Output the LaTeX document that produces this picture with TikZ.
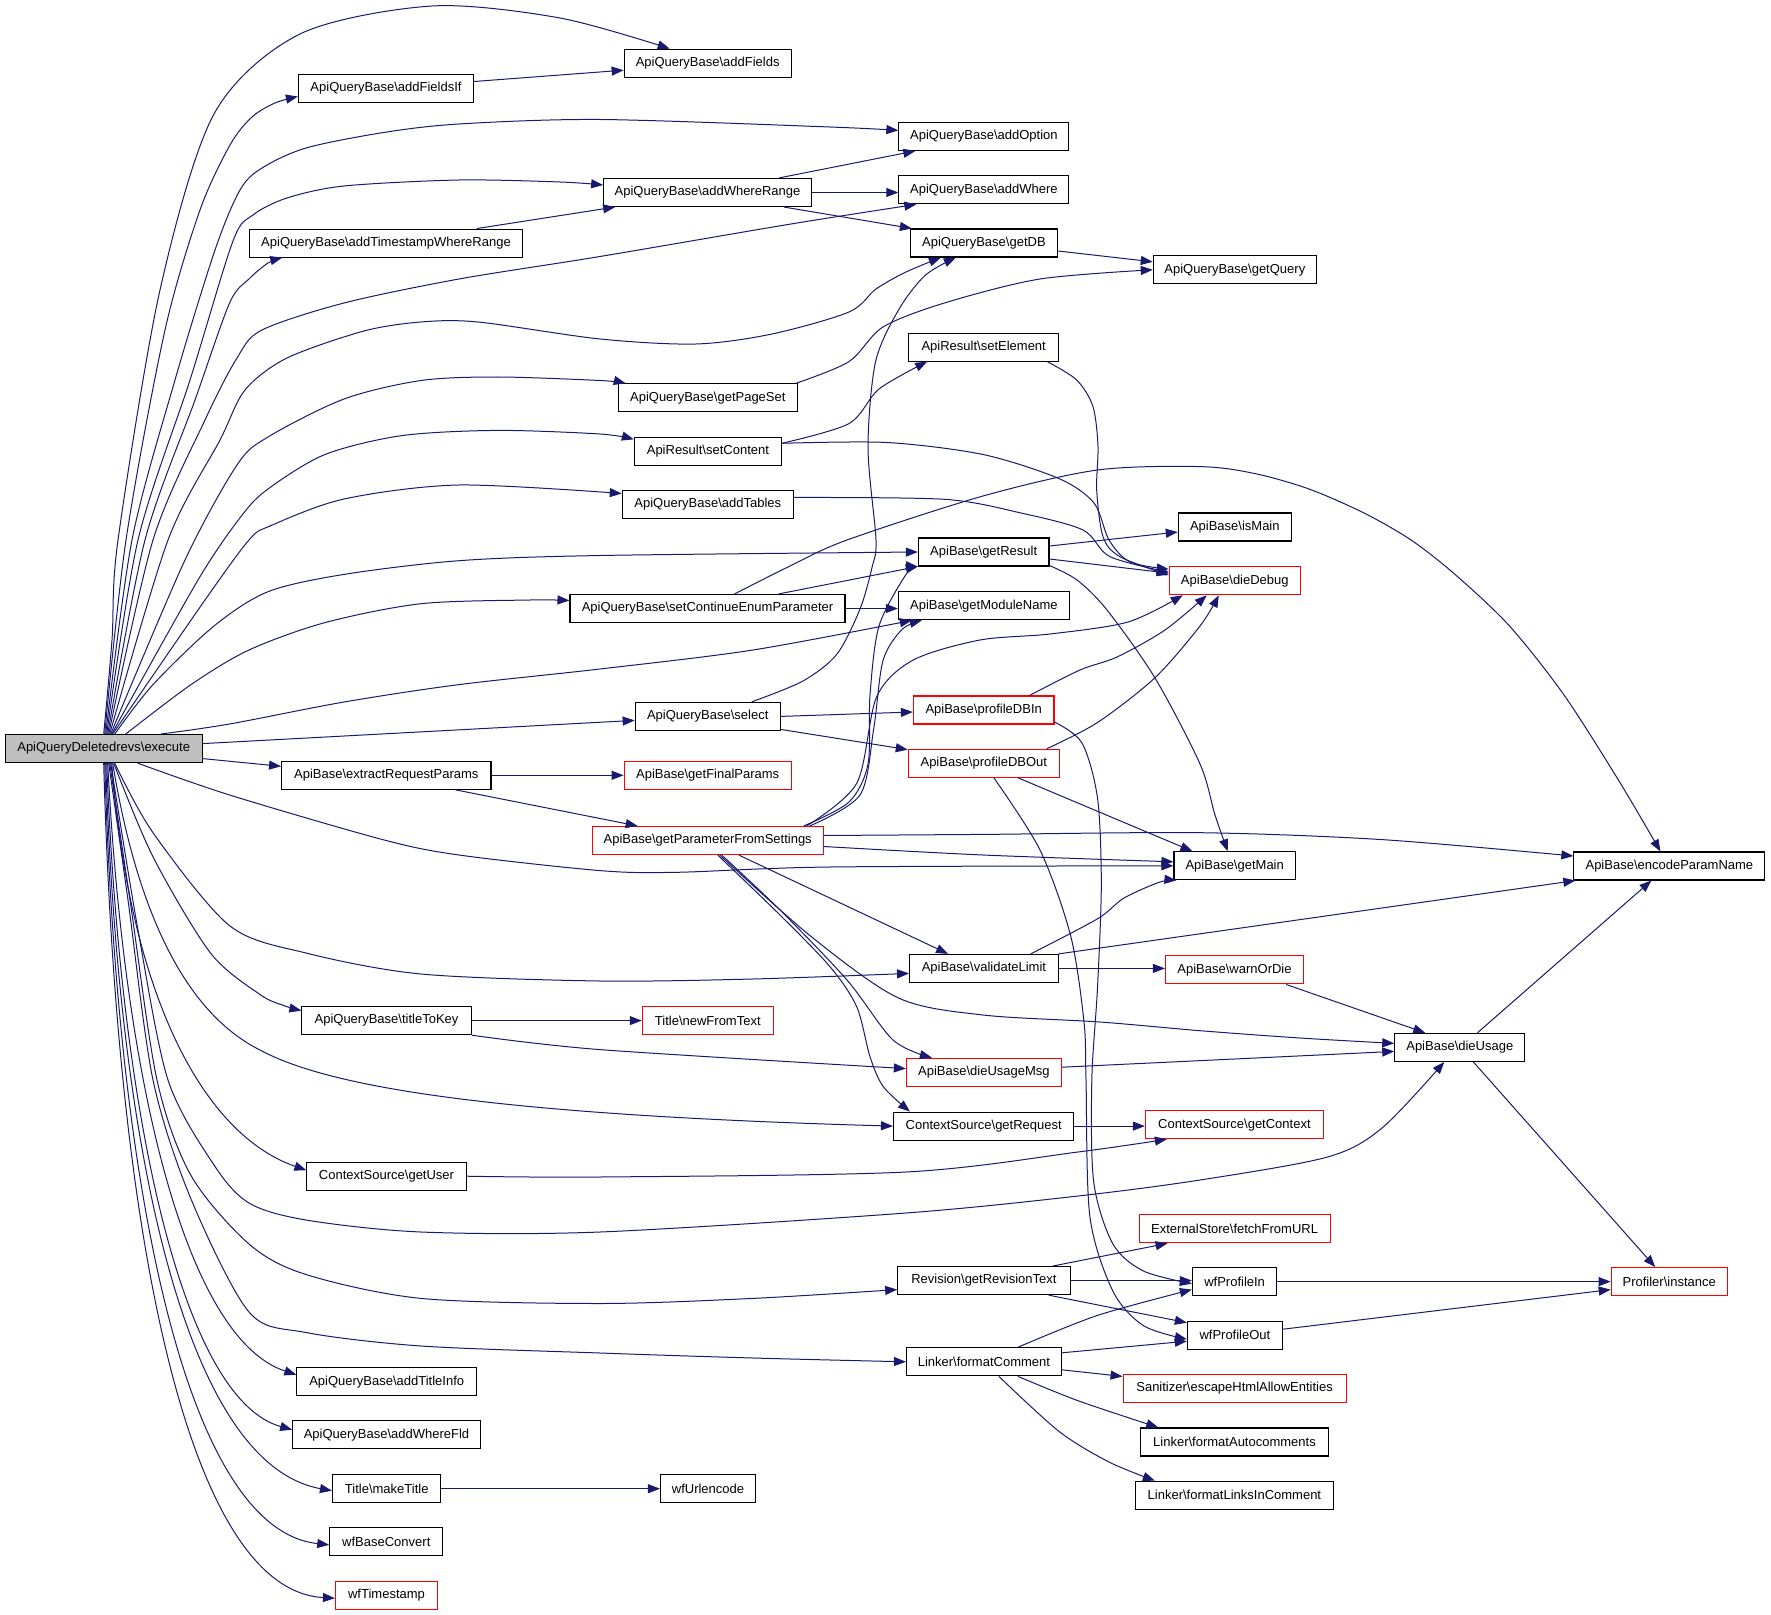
\documentclass[tikz,border=0pt]{standalone}
\usepackage{fontspec}
\setmainfont{Liberation Sans}
\usetikzlibrary{arrows.meta,calc}
\definecolor{edgeblue}{RGB}{25,25,112}
\definecolor{boxgray}{RGB}{191,191,191}
\tikzset{
  box/.style={draw=black, line width=0.55pt, fill=white, minimum height=14pt, inner xsep=1pt, inner ysep=1pt, font=\fontsize{6.5}{7.8}\selectfont},
  redbox/.style={box, draw=red},
  call/.style={draw=edgeblue, line width=0.5pt, -{Triangle[length=6pt,width=4.5pt]}},
}
\begin{document}
\begin{tikzpicture}[x=0.5pt,y=-0.5pt]
\fill[white] (0,0) rectangle (1771,1615);
\useasboundingbox (0,0) rectangle (1771,1615);
% ---------- nodes ----------
\node[box,fill=boxgray,minimum width=98.4pt] (E) at (103.7,748.6) {ApiQueryDeletedrevs\textbackslash execute};
% column 1
\node[box,minimum width=87.6pt] (addFieldsIf) at (386,88.5) {ApiQueryBase\textbackslash addFieldsIf};
\node[box,minimum width=136.2pt] (addTS) at (386,243.1) {ApiQueryBase\textbackslash addTimestampWhereRange};
\node[box,minimum width=104.7pt] (extract) at (386.3,775.3) {ApiBase\textbackslash extractRequestParams};
\node[box,minimum width=84.6pt] (titleToKey) at (386.5,1020.6) {ApiQueryBase\textbackslash titleToKey};
\node[box,minimum width=79.6pt] (getUser) at (386.5,1176.2) {ContextSource\textbackslash getUser};
\node[box,minimum width=89.8pt] (addTitleInfo) at (386.7,1381.7) {ApiQueryBase\textbackslash addTitleInfo};
\node[box,minimum width=93.8pt] (addWhereFld) at (386.5,1434.7) {ApiQueryBase\textbackslash addWhereFld};
\node[box,minimum width=54.2pt] (makeTitle) at (386.7,1488.7) {Title\textbackslash makeTitle};
\node[box,minimum width=56.5pt] (wfBaseConvert) at (386.3,1541.8) {wfBaseConvert};
\node[redbox,minimum width=51pt] (wfTimestamp) at (386.5,1595.2) {wfTimestamp};
% column 2
\node[box,minimum width=83.5pt] (addFields) at (707.7,63.2) {ApiQueryBase\textbackslash addFields};
\node[box,minimum width=103.8pt] (addWhereRange) at (707.5,192.5) {ApiQueryBase\textbackslash addWhereRange};
\node[box,minimum width=89.5pt] (getPageSet) at (707.8,397.9) {ApiQueryBase\textbackslash getPageSet};
\node[box,minimum width=73.5pt] (setContent) at (707.9,451.3) {ApiResult\textbackslash setContent};
\node[box,minimum width=85.5pt] (addTables) at (707.8,504.5) {ApiQueryBase\textbackslash addTables};
\node[box,minimum width=137.5pt] (setCont) at (707.5,608.5) {ApiQueryBase\textbackslash setContinueEnumParameter};
\node[box,minimum width=72.5pt] (select) at (707.7,716.4) {ApiQueryBase\textbackslash select};
\node[redbox,minimum width=83.5pt] (getFinalParams) at (707.7,775.1) {ApiBase\textbackslash getFinalParams};
\node[redbox,minimum width=115.5pt] (gPFS) at (707.7,840.5) {ApiBase\textbackslash getParameterFromSettings};
\node[redbox,minimum width=65.5pt] (newFromText) at (707.8,1020.7) {Title\textbackslash newFromText};
\node[box,minimum width=47.5pt] (wfUrlencode) at (708,1488.7) {wfUrlencode};
% column 3
\node[box,minimum width=85pt] (addOption) at (983.9,136.4) {ApiQueryBase\textbackslash addOption};
\node[box,minimum width=85pt] (addWhere) at (983.9,189.8) {ApiQueryBase\textbackslash addWhere};
\node[box,minimum width=73.5pt] (getDB) at (983.9,243) {ApiQueryBase\textbackslash getDB};
\node[box,minimum width=75pt] (setElement) at (983.7,347.1) {ApiResult\textbackslash setElement};
\node[box,minimum width=65.3pt] (getResult) at (983.7,552) {ApiBase\textbackslash getResult};
\node[box,minimum width=85.5pt] (getModuleName) at (983.9,605.8) {ApiBase\textbackslash getModuleName};
\node[redbox,minimum width=70.3pt] (profileDBIn) at (983.7,710) {ApiBase\textbackslash profileDBIn};
\node[redbox,minimum width=75.5pt] (profileDBOut) at (983.8,763.2) {ApiBase\textbackslash profileDBOut};
\node[box,minimum width=74.3pt] (validateLimit) at (983.9,968.4) {ApiBase\textbackslash validateLimit};
\node[redbox,minimum width=77.5pt] (dieUsageMsg) at (983.9,1072.2) {ApiBase\textbackslash dieUsageMsg};
\node[box,minimum width=90.2pt] (getRequest) at (983.7,1126.1) {ContextSource\textbackslash getRequest};
\node[box,minimum width=86.2pt] (getRevisionText) at (983.9,1280.6) {Revision\textbackslash getRevisionText};
\node[box,minimum width=77.4pt] (formatComment) at (983.9,1361.8) {Linker\textbackslash formatComment};
% column 4
\node[box,minimum width=81.5pt] (getQuery) at (1234.8,269.8) {ApiQueryBase\textbackslash getQuery};
\node[box,minimum width=56.5pt] (isMain) at (1234.8,527) {ApiBase\textbackslash isMain};
\node[redbox,minimum width=65.5pt] (dieDebug) at (1234.8,580.7) {ApiBase\textbackslash dieDebug};
\node[box,minimum width=60.7pt] (getMain) at (1234.7,865.8) {ApiBase\textbackslash getMain};
\node[redbox,minimum width=69pt] (warnOrDie) at (1234.5,969.9) {ApiBase\textbackslash warnOrDie};
\node[redbox,minimum width=89pt] (getContext) at (1234.4,1124.7) {ContextSource\textbackslash getContext};
\node[redbox,minimum width=95.5pt] (fetchFromURL) at (1234.6,1228.8) {ExternalStore\textbackslash fetchFromURL};
\node[box,minimum width=42.2pt] (wfProfileIn) at (1234.6,1281.6) {wfProfileIn};
\node[box,minimum width=47.5pt] (wfProfileOut) at (1234.9,1335.2) {wfProfileOut};
\node[redbox,minimum width=111.5pt] (escape) at (1234.6,1388.4) {Sanitizer\textbackslash escapeHtmlAllowEntities};
\node[box,minimum width=93.7pt] (formatAuto) at (1234.5,1442) {Linker\textbackslash formatAutocomments};
\node[box,minimum width=99pt] (formatLinks) at (1234.4,1495.2) {Linker\textbackslash formatLinksInComment};
% column 5, 6
\node[box,minimum width=65pt] (dieUsage) at (1459.8,1047.4) {ApiBase\textbackslash dieUsage};
\node[box,minimum width=95.5pt] (encode) at (1669.4,866) {ApiBase\textbackslash encodeParamName};
\node[redbox,minimum width=58pt] (instance) at (1669.2,1281.6) {Profiler\textbackslash instance};
% ---------- edges from execute (upwards) ----------
\draw[call] plot[smooth] coordinates {(E.north) (112,640) (118,540) (160,290) (214,114) (300,34) (432,6) (560,18) ($(addFields.north west)+(46,0)$)};
\draw[call] plot[smooth] coordinates {($(E.north)+(1,0)$) (126,540) (165,330) (200,210) (230,145) (252,117) (275,103) ($(addFieldsIf.west)+(0,8)$)};
\draw[call] plot[smooth] coordinates {($(E.north)+(2,0)$) (132,540) (175,380) (215,250) (240,190) (262,168) (306,148) (383,132.6) (459,124) (600,119.5) (830,127) ($(addOption.west)+(0,-6)$)};
\draw[call] plot[smooth] coordinates {($(E.north)+(3,0)$) (138,540) (190,380) (233,241) (253,215) (287,198) (344,186) (459,180) (560,182) ($(addWhereRange.west)+(0,-7.5)$)};
\draw[call] plot[smooth] coordinates {($(E.north)+(4,0)$) (145,540) (195,400) (229.6,303) (249,279) (268,263) ($(addTS.south west)+(33,0)$)};
\draw[call] plot[smooth] coordinates {($(E.north)+(5,0)$) (153,540) (205,420) (237,358) (262,330) (344,303) (459,279) (600,256.5) (791,224) ($(addWhere.south west)+(18,0)$)};
\draw[call] plot[smooth] coordinates {($(E.north)+(6,0)$) (168,540) (220,440) (245,390) (287,358) (364,331) (421,322) (478,322) (600,339) (696,344) (772,334) (849,312) (876,289) (906,272) ($(getDB.south west)+(31,0)$)};
\draw[call] plot[smooth] coordinates {($(E.north)+(7,0)$) (185,560) (237,465) (268,437) (344,399) (421,380.5) (497.5,377) (600,380.5) ($(getPageSet.north west)+(8,0)$)};
\draw[call] plot[smooth] coordinates {($(E.north)+(8,0)$) (198,580) (241,516.5) (268,489) (325,454.5) (402,435.6) (497.5,430.4) (600,434) ($(setContent.west)+(0,-12)$)};
\draw[call] plot[smooth] coordinates {($(E.north)+(9,0)$) (205,600) (249,540) (270,526) (344,499) (459,485) ($(addTables.west)+(0,-11)$)};
\draw[call] plot[smooth] coordinates {($(E.north)+(11,0)$) (153,684.6) (214,626) (268,591.7) (344,574.4) (459,560.7) (600,555.5) (getResult.west)};
\draw[call] plot[smooth] coordinates {($(E.north)+(22,0)$) (191,684.6) (249,650) (325,622.6) (421,603.7) (530,600) ($(setCont.west)+(0,-8)$)};
\draw[call] plot[smooth] coordinates {($(E.north)+(57,0)$) (229.6,724) (344,702) (459,684.6) (600,669) (753,650) ($(getModuleName.south west)+(14,0)$)};
\draw[call] ($(E.east)+(0,-5)$) -- ($(select.west)+(0,4)$);
\draw[call] ($(E.east)+(0,10)$) -- ($(extract.west)+(0,-9)$);
% ---------- edges from execute (downwards) ----------
\draw[call] plot[smooth] coordinates {($(E.south)+(34,0)$) (229.6,795) (382.7,839.6) (459,855) (600,870.6) (676.5,872.3) (829.6,867) (getMain.west)};
\draw[call] plot[smooth] coordinates {($(E.south)+(11,0)$) (153,832.7) (229.6,925.7) (306,953) (421,974) (600,981) (753,979) ($(validateLimit.west)+(0,5)$)};
\draw[call] plot[smooth] coordinates {($(E.south)+(10,0)$) (153,856.8) (210.5,953) (260,994.5) (285,1006) ($(titleToKey.west)+(0,-10)$)};
\draw[call] ($(E.south)+(9,0)$) .. controls (135,900) and (180,1010) .. (260,1050) .. controls (330,1088) and (500,1115) .. (getRequest.west);
\draw[call] ($(E.south)+(8,0)$) .. controls (130,1000) and (205,1135) .. ($(getUser.west)+(0,-6)$);
\draw[call] plot[smooth] coordinates {($(E.south)+(7,0)$) (138,930) (168,1080) (214,1165) (249,1203) (306,1220) (421,1232) (600,1232) (906,1213) (1078,1196) (1200,1180) (1327.5,1157) (1382,1128) ($(dieUsage.south west)+(50,0)$)};
\draw[call] plot[smooth] coordinates {($(E.south)+(6,0)$) (130,900) (157,1080) (191,1175.5) (249,1244) (306,1274.5) (421,1298.4) (600,1303.5) (753,1298.4) ($(getRevisionText.west)+(0,9)$)};
\draw[call] plot[smooth] coordinates {($(E.south)+(5,0)$) (128,900) (153,1080) (191,1199) (249,1312) (306,1332.5) (421,1346) (600,1353) (753,1358) (formatComment.west)};
\draw[call] ($(E.south)+(4,0)$) .. controls (125,1100) and (190,1340) .. ($(addTitleInfo.west)+(0,-7)$);
\draw[call] ($(E.south)+(3,0)$) .. controls (121,1130) and (185,1400) .. ($(addWhereFld.west)+(0,-5)$);
\draw[call] ($(E.south)+(2,0)$) .. controls (119,1170) and (190,1465) .. ($(makeTitle.west)+(0,2)$);
\draw[call] ($(E.south)+(1,0)$) .. controls (118,1210) and (190,1530) .. ($(wfBaseConvert.west)+(0,3)$);
\draw[call] (E.south) .. controls (117,1250) and (190,1590) .. ($(wfTimestamp.west)+(0,3)$);
% ---------- other edges ----------
\draw[call] ($(addFieldsIf.east)+(0,-7)$) -- ($(addFields.west)+(0,7)$);
\draw[call] ($(addWhereRange.north east)+(-33,0)$) -- ($(addOption.south west)+(17,0)$);
\draw[call] (addWhereRange.east) -- (addWhereRange.east -| addWhere.west);
\draw[call] ($(addWhereRange.south east)+(-28,0)$) -- ($(getDB.north west)+(2,0)$);
\draw[call] ($(addTS.north east)+(-46,0)$) -- ($(addWhereRange.south west)+(12,0)$);
\draw[call] ($(getDB.east)+(0,8)$) -- ($(getQuery.west)+(0,-8)$);
\draw[call] plot[smooth] coordinates {($(getPageSet.north east)+(-2,0)$) (849,361.6) (883,327) (944.4,303) (1040,279) (getQuery.west)};
\draw[call] plot[smooth] coordinates {($(setContent.east)+(0,-8)$) (849,423.6) (879,389) ($(setElement.south west)+(19,0)$)};
\draw[call] plot[smooth] coordinates {($(setContent.east)+(0,-8)$) (887,442.5) (983,454.5) (1059,478.6) (1094,503) (1109,540) (1130,562) ($(dieDebug.north west)+(0,3)$)};
\draw[call] plot[smooth] coordinates {($(setElement.south east)+(-12,0)$) (1076.7,380) (1093,406.7) (1098,446.7) (1096.7,490) (1103,536.7) (1120,556.7) ($(dieDebug.north west)+(0,9)$)};
\draw[call] plot[smooth] coordinates {($(addTables.east)+(0,-7)$) (944.4,499.3) (1021,513) (1083,530) (1110,556.7) ($(dieDebug.north west)+(0,6)$)};
\draw[call] ($(getResult.east)+(0,-6)$) -- ($(isMain.west)+(0,5)$);
\draw[call] ($(getResult.east)+(0,7)$) -- ($(dieDebug.north west)+(0,7)$);
\draw[call] plot[smooth] coordinates {($(getResult.south east)+(0,-1)$) (1077,580) (1107,610) (1155,678) (1200,764) (1215,815) ($(getMain.north)+(-7,0)$)};
\draw[call] ($(setCont.north east)+(-67,0)$) -- (getResult.south west);
\draw[call] (setCont.east) -- (setCont.east -| getModuleName.west);
\draw[call] plot[smooth] coordinates {($(setCont.north east)+(-111,0)$) (790,566) (847,540) (983,496) (1097.5,470) (1200,466.6) (1254.6,473.5) (1309,489) (1364,513) (1411,540) (1455,574.4) (1509.5,626) (1564,695) (1619,781) ($(encode.north)+(-9,0)$)};
\draw[call] plot[smooth] coordinates {($(select.north east)+(-29,0)$) (803,681) (837,654) (860,609) (872,567.5) (876,540) (868,448) (875.5,362) (898.5,310) (925,275.5) ($(getDB.south west)+(46,0)$)};
\draw[call] (select.east) -- ($(profileDBIn.west)+(0,2)$);
\draw[call] ($(select.east)+(0,13)$) -- ($(profileDBOut.north west)+(0,1)$);
\draw[call] plot[smooth] coordinates {($(profileDBIn.north east)+(-25,0)$) (1080,670) (1117,657) (1165,630) ($(dieDebug.south west)+(38,0)$)};
\draw[call] plot[smooth] coordinates {($(profileDBOut.north east)+(-13,0)$) (1097.5,722.5) (1155,677.7) (1200,626) ($(dieDebug.south west)+(50,0)$)};
\draw[call] plot[smooth] coordinates {($(profileDBIn.east)+(0,12)$) (1082,743) (1097.5,798) (1101.3,884) (1097.5,987.7) (1091.8,1080) (1093.7,1182) (1112.8,1243.8) (1143.4,1271) ($(wfProfileIn.west)+(0,2)$)};
\draw[call] plot[smooth] coordinates {($(profileDBOut.south)+(10,0)$) (1040,850) (1070.7,936) (1084,1022) (1086,1080) (1089.8,1216) (1112.8,1291) (1143.4,1325.6) ($(wfProfileOut.west)+(0,4)$)};
\draw[call] ($(profileDBOut.south east)+(-42,0)$) -- ($(getMain.north west)+(19,0)$);
\draw[call] (extract.east) -- (extract.east -| getFinalParams.west);
\draw[call] ($(extract.south east)+(-36,0)$) -- ($(gPFS.north west)+(46,0)$);
\draw[call] plot[smooth] coordinates {($(gPFS.north east)+(-20,0)$) (849,802) (868,764) (870,695) (879,626) (906,574.4) (getResult.south west)};
\draw[call] plot[smooth] coordinates {($(gPFS.north east)+(-14,0)$) (860,795) (873.6,729.4) (883,660.5) (902,629.5) ($(getModuleName.south west)+(24,0)$)};
\draw[call] plot[smooth] coordinates {($(gPFS.north east)+(-17,0)$) (856.7,783.3) (876.7,696.7) (913.3,660) (980,640) (1050,634) (1128,622) ($(dieDebug.south west)+(14,0)$)};
\draw[call] plot[smooth] coordinates {($(gPFS.east)+(0,-5)$) (983,834.4) (1200,832.7) (1382,839.6) ($(encode.west)+(0,-10)$)};
\draw[call] plot[smooth] coordinates {($(gPFS.east)+(0,6)$) (983,855) ($(getMain.west)+(0,-4)$)};
\draw[call] ($(gPFS.south east)+(-85,0)$) -- ($(validateLimit.north west)+(39,0)$);
\draw[call] plot[smooth] coordinates {($(gPFS.south)+(12,0)$) (810.5,936) (898.5,998) (983,1015) (1100,1022) (1200,1030.7) (1300,1038) ($(dieUsage.west)+(0,-4)$)};
\draw[call] plot[smooth] coordinates {($(gPFS.south)+(14,0)$) (780,910) (847,980) (893,1040) ($(dieUsageMsg.north west)+(26,0)$)};
\draw[call] plot[smooth] coordinates {($(gPFS.south)+(10,0)$) (780,915) (830,966.7) (856.7,1006.7) (870,1056.7) (883.3,1086.7) ($(getRequest.north west)+(17,0)$)};
\draw[call] plot[smooth] coordinates {($(validateLimit.north east)+(-28,0)$) (1097.5,918.8) (1124,898) (1160,882) ($(getMain.south west)+(3,0)$)};
\draw[call] (validateLimit.north east) -- ($(encode.south west)+(2,0)$);
\draw[call] (validateLimit.east) -- (validateLimit.east -| warnOrDie.west);
\draw[call] ($(warnOrDie.south east)+(-18,0)$) -- ($(dieUsage.north west)+(31,0)$);
\draw[call] (titleToKey.east) -- (titleToKey.east -| newFromText.west);
\draw[call] plot[smooth] coordinates {(titleToKey.south east) (600,1049.6) ($(dieUsageMsg.west)+(0,-3.6)$)};
\draw[call] ($(dieUsageMsg.east)+(0,-5)$) -- ($(dieUsage.west)+(0,4)$);
\draw[call] ($(dieUsage.north east)+(-48,0)$) -- ($(encode.south)+(-18,0)$);
\draw[call] ($(dieUsage.south east)+(-52,0)$) -- ($(instance.north)+(-14,0)$);
\draw[call] (getRequest.east) -- (getRequest.east -| getContext.west);
\draw[call] plot[smooth] coordinates {(getUser.east) (600,1177) (906,1172) (1078,1152) ($(getContext.south west)+(22,0)$)};
\draw[call] ($(getRevisionText.north east)+(-18,0)$) -- ($(fetchFromURL.south west)+(29,0)$);
\draw[call] (getRevisionText.east) -- (getRevisionText.east -| wfProfileIn.west);
\draw[call] ($(getRevisionText.south east)+(-22,0)$) -- ($(wfProfileOut.north west)+(0,2)$);
\draw[call] plot[smooth] coordinates {($(formatComment.north east)+(-44,0)$) (1097.5,1315.4) ($(wfProfileIn.west)+(0,8)$)};
\draw[call] ($(formatComment.east)+(0,-9)$) -- ($(wfProfileOut.west)+(0,6)$);
\draw[call] ($(formatComment.east)+(0,8)$) -- ($(escape.west)+(0,-12)$);
\draw[call] plot[smooth] coordinates {($(formatComment.south east)+(-44,0)$) (1078,1400.7) ($(formatAuto.north west)+(18,0)$)};
\draw[call] plot[smooth] coordinates {($(formatComment.south east)+(-63,0)$) (1059,1431.4) (1109,1462) ($(formatLinks.north west)+(20,0)$)};
\draw[call] (wfProfileIn.east) -- (wfProfileIn.east -| instance.west);
\draw[call] ($(wfProfileOut.east)+(0,-6)$) -- ($(instance.west)+(0,8)$);
\draw[call] (makeTitle.east) -- (makeTitle.east -| wfUrlencode.west);
\end{tikzpicture}
\end{document}
